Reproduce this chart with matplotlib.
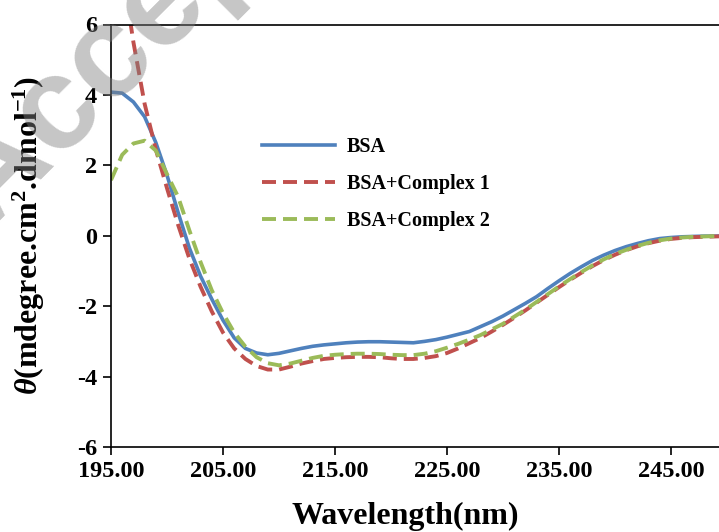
import numpy as np
import matplotlib
matplotlib.use('Agg')
import matplotlib.pyplot as plt

plt.rcParams['font.family'] = 'Liberation Serif'
plt.rcParams['font.weight'] = 'bold'
plt.rcParams['axes.unicode_minus'] = False
plt.rcParams['mathtext.fontset'] = 'custom'
plt.rcParams['mathtext.rm'] = 'Liberation Serif:bold'
plt.rcParams['mathtext.bf'] = 'Liberation Serif:bold'
plt.rcParams['mathtext.it'] = 'Liberation Serif:bold:italic'

# CD spectra, 1 nm steps
wavelength = np.arange(195, 251)
bsa = [4.08, 4.05, 3.80, 3.38, 2.65, 1.72, 0.65, -0.35, -1.15, -1.80,
       -2.40, -2.90, -3.20, -3.33, -3.38, -3.34, -3.27, -3.20, -3.14, -3.10,
       -3.07, -3.04, -3.02, -3.01, -3.01, -3.02, -3.03, -3.04, -3.00, -2.95,
       -2.88, -2.80, -2.72, -2.58, -2.44, -2.28, -2.10, -1.92, -1.73, -1.50,
       -1.28, -1.07, -0.88, -0.70, -0.55, -0.42, -0.31, -0.22, -0.14, -0.08,
       -0.05, -0.03, -0.02, -0.01, -0.01, 0.00]
complex1 = [np.nan, 7.60, 5.50, 3.75, 2.45, 1.35, 0.30, -0.65, -1.45, -2.15,
            -2.75, -3.20, -3.50, -3.70, -3.80, -3.80, -3.72, -3.63, -3.56, -3.50,
            -3.47, -3.45, -3.44, -3.44, -3.45, -3.48, -3.50, -3.50, -3.47, -3.42,
            -3.33, -3.20, -3.05, -2.90, -2.72, -2.53, -2.33, -2.12, -1.90, -1.68,
            -1.46, -1.25, -1.05, -0.86, -0.69, -0.54, -0.41, -0.30, -0.21, -0.14,
            -0.09, -0.06, -0.04, -0.03, -0.02, -0.01]
complex2 = [1.58, 2.30, 2.62, 2.70, 2.42, 1.75, 1.10, 0.15, -0.75, -1.55,
            -2.20, -2.75, -3.15, -3.45, -3.62, -3.68, -3.63, -3.55, -3.47, -3.41,
            -3.38, -3.36, -3.35, -3.35, -3.36, -3.38, -3.39, -3.39, -3.35, -3.28,
            -3.18, -3.07, -2.95, -2.82, -2.66, -2.50, -2.30, -2.10, -1.88, -1.66,
            -1.44, -1.23, -1.03, -0.84, -0.67, -0.52, -0.40, -0.29, -0.20, -0.13,
            -0.08, -0.05, -0.03, -0.02, -0.01, 0.00]

xticks = [195, 205, 215, 225, 235, 245]
xtick_labels = ['195.00', '205.00', '215.00', '225.00', '235.00', '245.00']
yticks = [-6, -4, -2, 0, 2, 4, 6]

W, H = 719, 532
fig = plt.figure(figsize=(W / 100, H / 100), dpi=100)
ax = fig.add_axes([111 / W, 1 - 447 / H, 616 / W, 422.5 / H])

ax.plot(wavelength, bsa, color='#4F81BD', lw=2.6, label='BSA')
ax.plot(wavelength, complex1, color='#C0504D', lw=2.8, dashes=(3.6, 1.8),
        label='BSA+Complex 1')
ax.plot(wavelength, complex2, color='#9BBB59', lw=2.8, dashes=(3.6, 1.8),
        label='BSA+Complex 2')

ax.set_xlim(195, 250)
ax.set_ylim(-6, 6)
ax.set_xticks(xticks)
ax.set_xticklabels(xtick_labels)
ax.set_yticks(yticks)
ax.tick_params(axis='both', direction='out', length=6, width=1.2,
               labelsize=17.5, pad=4)
for side in ['left', 'bottom', 'top']:
    ax.spines[side].set_linewidth(1.2)
ax.spines['right'].set_visible(False)

ax.set_xlabel('Wavelength(nm)', fontsize=23, fontweight='bold')
ax.xaxis.set_label_coords(294 / 616, -55 / 422.5)
ax.set_ylabel(r'$\theta$(mdegree.cm$^{2}$.dmol$^{-1}$)', fontsize=23,
              fontweight='bold')
ax.yaxis.set_label_coords(-64 / 616, 0.5)

leg = ax.legend(loc='upper left', bbox_to_anchor=(262 / W, 1 - 137 / H),
                bbox_transform=fig.transFigure, frameon=False,
                fontsize=14.5, handlelength=3.6, handletextpad=0.6,
                labelspacing=0.85, borderpad=0, borderaxespad=0)

fig.text(-10 / W, 1 - 231 / H, 'Accepted Manuscript', family='Liberation Sans',
         fontsize=95, fontweight='bold', color='#808080', alpha=0.45,
         rotation=45, rotation_mode='anchor', ha='left', va='baseline',
         zorder=10)

fig.savefig('out.png', dpi=100)
